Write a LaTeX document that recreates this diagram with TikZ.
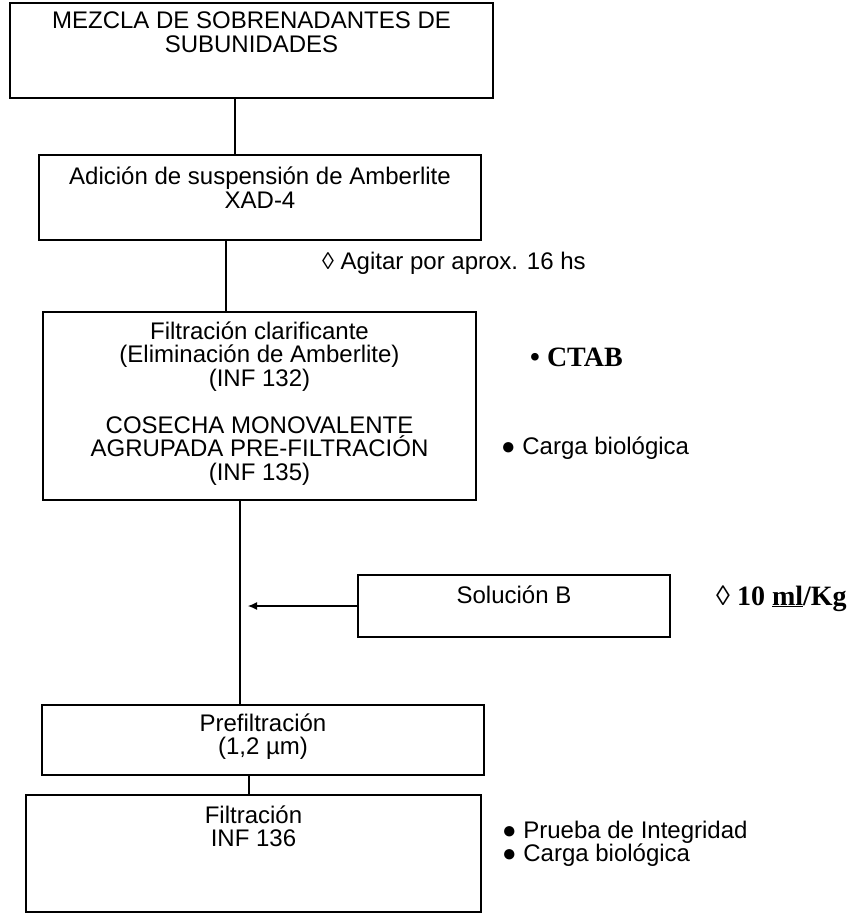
\documentclass[tikz,border=0pt]{standalone}
\usepackage{fontspec}
\setmainfont{Liberation Sans}
\newfontfamily\serifnote{Liberation Serif}
\usetikzlibrary{positioning,arrows.meta}

\begin{document}
\begin{tikzpicture}[x=1pt,y=-1pt,
  stepbox/.style={draw,line width=1.6pt,inner sep=0pt},
  boxtext/.style={align=center,inner sep=0pt,anchor=base,font=\fontsize{24}{23.5}\selectfont},
  note/.style={align=left,inner sep=0pt,anchor=base west,font=\fontsize{24}{23}\selectfont},
  bignote/.style={inner sep=0pt,anchor=base west,font=\serifnote\bfseries\fontsize{28}{28}\selectfont},
  flow/.style={line width=1.1pt}]
  \useasboundingbox (0,0) rectangle (854,919);

  % main chain of steps (text nodes sit on the baseline of their last line)
  \node[stepbox,minimum width=483pt,minimum height=95pt] (mezcla) at (251.5,50.5) {};
  \node[boxtext] (mezclaT) at (mezcla.north |- 0,52) {MEZCLA DE SOBRENADANTES DE\\SUBUNIDADES};

  \node[stepbox,minimum width=442pt,minimum height=85pt] (adicion) at (260,197.5) {};
  \node[boxtext] (adicionT) at (adicion.north |- 0,208) {Adición de suspensión de Amberlite\\XAD-4};

  \node[stepbox,minimum width=433pt,minimum height=188pt] (filtclar) at (259.5,406) {};
  \node[boxtext] (filtclarT) at (filtclar.north |- 0,480) {Filtración clarificante\\(Eliminación de Amberlite)\\(INF 132)\\[23.5pt]COSECHA MONOVALENTE\\AGRUPADA PRE-FILTRACIÓN\\(INF 135)};

  \node[stepbox,minimum width=312pt,minimum height=62pt] (solB) at (514,606) {};
  \node[boxtext] (solBT) at (solB.north |- 0,603) {Solución B};

  \node[stepbox,minimum width=442pt,minimum height=70pt] (prefilt) at (263,740) {};
  \node[boxtext] (prefiltT) at (prefilt.north |- 0,754.5) {Prefiltración\\(1,2 µm)};

  \node[stepbox,minimum width=455pt,minimum height=117pt] (filtr) at (253.5,853.5) {};
  \node[boxtext] (filtrT) at (filtr.north |- 0,846.5) {Filtración\\INF 136};

  % side notes
  \node[note] (agitar) at (322,269) {◊ Agitar por aprox. 16 hs};
  \node[bignote] (ctab) at (530,366) {• CTAB};
  \node[note] (carga1) at (501,454) {● Carga biológica};
  \node[bignote] (dosis) at (716,605) {◊ 10 \underline{ml}/Kg};
  \node[note] (ensayos) at (502,861) {● Prueba de Integridad\\● Carga biológica};

  % connectors
  \draw[flow] ([xshift=-16.5pt]mezcla.south) -- ([xshift=-16.5pt]mezcla.south |- adicion.north);
  \draw[flow] ([xshift=-34pt]adicion.south) -- ([xshift=-34pt]adicion.south |- filtclar.north);
  \draw[flow] ([xshift=-19.5pt]filtclar.south) -- ([xshift=-19.5pt]filtclar.south |- prefilt.north);
  \draw[flow] ([xshift=-14pt]prefilt.south) -- ([xshift=-14pt]prefilt.south |- filtr.north);
  \coordinate (join) at (248,606);
  \draw[flow,-{Latex[length=9pt,width=8pt]}] (solB.west) -- (join);
\end{tikzpicture}
\end{document}
